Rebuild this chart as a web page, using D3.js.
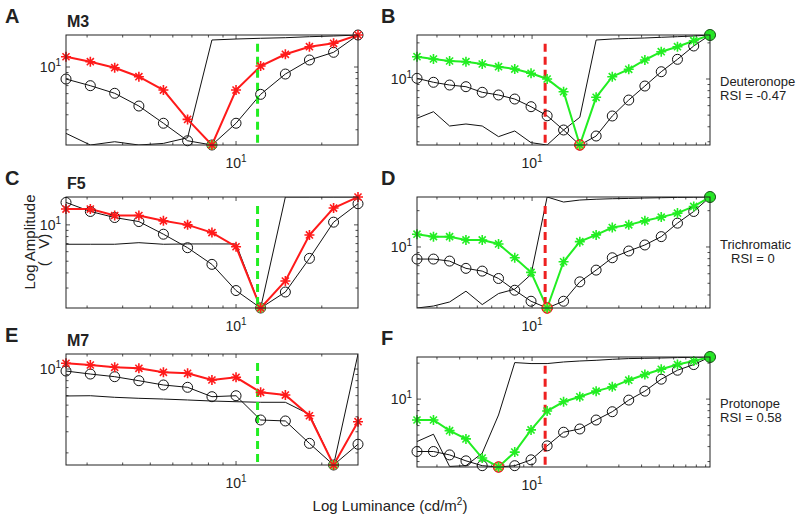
<!DOCTYPE html>
<html><head><meta charset="utf-8">
<script src="https://cdn.jsdelivr.net/npm/d3@7"></script>
<style>
body{margin:0;background:#fff}
text{font-family:"Liberation Sans",Arial,sans-serif;fill:#222}
</style>
</head><body>
<svg id="chart" width="800" height="523"></svg>
<script>
// ---------- DATA ----------
// luminance steps (cd/m2)
const lumLeft  = [2.53, 3.08, 3.75, 4.56, 5.56, 6.76, 8.23, 10.0, 12.2, 14.9, 18.1, 22.0, 26.8];
const lumRight = [2.33, 2.87, 3.52, 4.33, 5.32, 6.54, 8.03, 9.87, 12.1, 14.9, 18.3, 22.5, 27.6, 34.0, 41.7, 51.3, 63.0, 77.4, 95.1];

// Panel A (M3)
const m3Cone   = [12.18, 11.07, 9.87, 8.30, 6.43, 3.66, 2.24, 6.43, 10.19, 12.76, 14.76, 15.76, 18.48];
const m3Flick  = [7.94, 6.99, 6.04, 4.73, 3.40, 2.43, 2.24, 3.40, 5.92, 8.74, 11.44, 13.26, 18.48];
const m3Trace  = [2.80, 2.24, 2.385, 2.24, 2.31, 2.575, 16.79, 17.11, 17.35, 17.55, 17.89, 18.13, 18.48];
// Panel B (Deuteronope)
const deutCone  = [15.34, 14.68, 14.13, 13.94, 13.34, 12.66, 12.11, 11.16, 10.0, 7.84, 2.82, 7.04, 10.45, 12.05, 14.40, 16.88, 18.58, 20.85, 23.26];
const deutFlick = [10.13, 9.39, 8.91, 8.63, 7.75, 7.36, 6.81, 5.88, 4.94, 3.76, 2.82, 3.35, 4.92, 6.68, 8.74, 11.50, 14.59, 18.84, 23.26];
const deutTrace = [4.71, 5.34, 4.06, 4.22, 4.06, 3.31, 3.69, 2.95, 2.82, 3.76, 4.80, 21.13, 21.54, 21.75, 21.96, 22.26, 22.52, 22.82, 23.26];
// Panel C (F5)
const f5Cone   = [13.52, 13.52, 11.95, 11.95, 10.80, 10.0, 8.63, 6.59, 2.05, 3.43, 8.25, 13.78, 17.01];
const f5Flick  = [15.34, 12.91, 11.50, 10.65, 8.37, 6.47, 4.71, 2.86, 2.05, 2.78, 5.28, 10.53, 14.96];
const f5Trace  = [6.91, 6.91, 6.91, 7.12, 6.91, 6.95, 6.95, 6.95, 2.05, 17.01, 17.01, 17.01, 17.01];
// Panel D (Trichromatic)
const triCone  = [12.76, 12.18, 12.18, 11.44, 11.44, 10.59, 8.14, 6.16, 3.12, 7.54, 11.07, 12.59, 14.48, 15.25, 16.47, 17.68, 19.09, 21.67, 25.96];
const triFlick = [7.94, 7.94, 7.64, 6.65, 6.31, 5.48, 4.38, 3.55, 3.12, 3.55, 5.14, 6.43, 8.14, 9.26, 10.39, 12.18, 15.76, 19.69, 25.96];
const triTrace = [3.12, 3.24, 3.50, 4.30, 3.33, 4.11, 4.47, 5.92, 25.96, 23.58, 24.50, 24.88, 25.12, 25.26, 25.46, 25.61, 25.75, 25.85, 25.96];
// Panel E (M7)
const m7Cone   = [11.16, 10.80, 10.33, 10.13, 9.39, 9.21, 8.10, 8.53, 6.39, 6.07, 4.08, 1.585, 3.64];
const m7Flick  = [9.62, 9.08, 8.63, 7.99, 7.36, 7.04, 5.88, 5.99, 3.76, 3.69, 2.40, 1.585, 2.36];
const m7Trace  = [5.96, 5.99, 5.81, 5.70, 5.62, 5.52, 5.41, 5.34, 5.28, 5.28, 4.19, 1.585, 13.34];
// Panel F (Protonope)
const protCone  = [6.68, 6.68, 5.44, 4.64, 3.21, 2.70, 3.60, 5.52, 7.94, 9.50, 10.45, 11.66, 12.66, 14.40, 16.06, 17.78, 19.46, 20.85, 22.52];
const protFlick = [3.64, 3.64, 3.41, 3.04, 2.77, 2.70, 2.77, 3.10, 4.06, 5.28, 5.62, 6.68, 7.84, 9.81, 11.66, 14.68, 17.45, 19.46, 22.52];
const protTrace = [4.41, 5.08, 2.73, 2.77, 3.53, 7.36, 20.22, 19.84, 19.84, 20.46, 20.85, 21.13, 21.54, 21.84, 21.96, 22.09, 22.26, 22.39, 22.52];

// criterion luminance (dashed lines)
const dashLeft = 11.9, dashRight = 11.8;

const panelLetters = ["A", "B", "C", "D", "E", "F"];
const animalNames  = ["M3", "", "F5", "", "M7", ""];
const phenotypes   = ["", "Deuteronope", "", "Trichromatic", "", "Protonope"];
const rsiLabels    = ["", "RSI = -0.47", "", "RSI = 0", "", "RSI = 0.58"];

// ---------- LAYOUT ----------
const layout = [
  {x0:66,  x1:358, y0:35,  y1:145},
  {x0:417, x1:710, y0:35,  y1:145},
  {x0:66,  x1:358, y0:197, y1:308},
  {x0:417, x1:710, y0:197, y1:308},
  {x0:66,  x1:358, y0:354, y1:465},
  {x0:417, x1:710, y0:357, y1:467}
];
const RED = "#ff1a1a", GREEN = "#22ee22";

const panels = [
  {lum:lumLeft,  cone:m3Cone,   flick:m3Flick,   trace:m3Trace,   cColor:RED,   dash:dashLeft,  dColor:GREEN, right:false},
  {lum:lumRight, cone:deutCone, flick:deutFlick, trace:deutTrace, cColor:GREEN, dash:dashRight, dColor:"#ee2020", right:true},
  {lum:lumLeft,  cone:f5Cone,   flick:f5Flick,   trace:f5Trace,   cColor:RED,   dash:dashLeft,  dColor:GREEN, right:false},
  {lum:lumRight, cone:triCone,  flick:triFlick,  trace:triTrace,  cColor:GREEN, dash:dashRight, dColor:"#ee2020", right:true},
  {lum:lumLeft,  cone:m7Cone,   flick:m7Flick,   trace:m7Trace,   cColor:RED,   dash:dashLeft,  dColor:GREEN, right:false},
  {lum:lumRight, cone:protCone, flick:protFlick, trace:protTrace, cColor:GREEN, dash:dashRight, dColor:"#ee2020", right:true}
];

const svg = d3.select("#chart");

function starPath(r){
  const a = r*0.7071;
  return `M${-r},0L${r},0M0,${-r}L0,${r}M${-a},${-a}L${a},${a}M${-a},${a}L${a},${-a}`;
}

panels.forEach((p, i) => {
  const L = layout[i];
  const x = d3.scaleLog().domain(d3.extent(p.lum)).range([L.x0, L.x1]);
  const all = p.cone.concat(p.flick, p.trace);
  const y = d3.scaleLog().domain(d3.extent(all)).range([L.y1, L.y0]);
  const g = svg.append("g");
  const clipId = "clip" + i;
  svg.append("clipPath").attr("id", clipId).append("rect")
    .attr("x", L.x0).attr("y", L.y0).attr("width", L.x1 - L.x0).attr("height", L.y1 - L.y0);

  // ticks
  const isMajor = v => Math.abs(Math.log10(v) - Math.round(Math.log10(v))) < 1e-6;
  const xt = x.ticks().filter(v => v >= x.domain()[0] && v <= x.domain()[1]);
  const yt = y.ticks().filter(v => v >= y.domain()[0] && v <= y.domain()[1]);
  const tg = g.append("g").attr("stroke", "#222").attr("stroke-width", 0.8);
  xt.forEach(v => {
    const len = isMajor(v) ? 4 : 2.5, xx = x(v);
    tg.append("line").attr("x1", xx).attr("x2", xx).attr("y1", L.y1).attr("y2", L.y1 - len);
    tg.append("line").attr("x1", xx).attr("x2", xx).attr("y1", L.y0).attr("y2", L.y0 + len);
  });
  yt.forEach(v => {
    const len = isMajor(v) ? 4 : 2.5, yy = y(v);
    tg.append("line").attr("x1", L.x0).attr("x2", L.x0 + len).attr("y1", yy).attr("y2", yy);
    tg.append("line").attr("x1", L.x1).attr("x2", L.x1 - len).attr("y1", yy).attr("y2", yy);
  });
  // tick labels (powers of ten)
  xt.filter(isMajor).forEach(v => {
    const t = g.append("text").attr("x", x(v)).attr("y", L.y1 + 23)
      .attr("text-anchor", "middle").attr("font-size", 14);
    t.append("tspan").text("10");
    t.append("tspan").attr("dy", -6).attr("font-size", 10).text(Math.round(Math.log10(v)));
  });
  yt.filter(isMajor).forEach(v => {
    const t = g.append("text").attr("x", L.x0 - 5).attr("y", y(v) + 5)
      .attr("text-anchor", "end").attr("font-size", 14);
    t.append("tspan").text("10");
    t.append("tspan").attr("dy", -6).attr("font-size", 10).text(Math.round(Math.log10(v)));
  });

  const pg = g.append("g").attr("clip-path", `url(#${clipId})`);
  const line = d3.line().x((d, k) => x(p.lum[k])).y(d => y(d));

  // thin trace
  pg.append("path").datum(p.trace).attr("d", line)
    .attr("fill", "none").attr("stroke", "#111").attr("stroke-width", 1);
  // flicker (circles) line
  pg.append("path").datum(p.flick).attr("d", line)
    .attr("fill", "none").attr("stroke", "#111").attr("stroke-width", 1);
  // cone line
  pg.append("path").datum(p.cone).attr("d", line)
    .attr("fill", "none").attr("stroke", p.cColor).attr("stroke-width", 2);

  // dashed criterion line
  g.append("line").attr("x1", x(p.dash)).attr("x2", x(p.dash))
    .attr("y1", L.y0 + (L.y1 - L.y0) * 0.08).attr("y2", L.y1)
    .attr("stroke", p.dColor).attr("stroke-width", 3).attr("stroke-dasharray", "8,5");

  // circles
  const mg = g.append("g");
  mg.selectAll("circle.f").data(p.flick).enter().append("circle")
    .attr("cx", (d, k) => x(p.lum[k])).attr("cy", d => y(d)).attr("r", 5)
    .attr("fill", "none").attr("stroke", "#111").attr("stroke-width", 1);

  // special markers
  const iMin = d3.minIndex(p.cone), iMax = d3.maxIndex(p.cone);
  if (p.right) {
    mg.append("circle").attr("cx", x(p.lum[iMin])).attr("cy", y(p.cone[iMin])).attr("r", 5)
      .attr("fill", "#ff9a60").attr("stroke", "#ff2020").attr("stroke-width", 1.3);
    mg.append("circle").attr("cx", x(p.lum[iMax])).attr("cy", y(p.cone[iMax])).attr("r", 5.5)
      .attr("fill", "#30d030").attr("stroke", "#1a5a1a").attr("stroke-width", 1);
  } else {
    mg.append("circle").attr("cx", x(p.lum[iMin])).attr("cy", y(p.cone[iMin])).attr("r", 5)
      .attr("fill", "#66dd44").attr("opacity", 0.9);
  }

  // stars
  mg.selectAll("path.s").data(p.cone).enter().append("path")
    .attr("d", starPath(5))
    .attr("transform", (d, k) => `translate(${x(p.lum[k])},${y(d)})`)
    .attr("fill", "none").attr("stroke", p.cColor).attr("stroke-width", 1.6);

  // box
  g.append("rect").attr("x", L.x0).attr("y", L.y0)
    .attr("width", L.x1 - L.x0).attr("height", L.y1 - L.y0)
    .attr("fill", "none").attr("stroke", "#222").attr("stroke-width", 1);

  // panel letter
  svg.append("text").attr("x", p.right ? 381 : 5).attr("y", L.y0 - 12)
    .attr("font-size", 20).attr("font-weight", "bold").text(panelLetters[i]);
  if (animalNames[i]) {
    svg.append("text").attr("x", 67).attr("y", L.y0 - 8)
      .attr("font-size", 16).attr("font-weight", "bold").text(animalNames[i]);
  }
  if (phenotypes[i]) {
    const centered = phenotypes[i] === "Trichromatic";
    svg.append("text").attr("x", 720).attr("y", (L.y0 + L.y1) / 2 - 4)
      .attr("font-size", 13).text(phenotypes[i]);
    svg.append("text").attr("x", centered ? 731 : 720).attr("y", (L.y0 + L.y1) / 2 + 10)
      .attr("font-size", 13).text(rsiLabels[i]);
  }
});

// axis titles
svg.append("text").attr("transform", "translate(35,242) rotate(-90)")
  .attr("text-anchor", "middle").attr("font-size", 15).text("Log Amplitude");
svg.append("text").attr("transform", "translate(49,250) rotate(-90)")
  .attr("text-anchor", "middle").attr("font-size", 15).style("white-space", "pre").text("(   V)");
const xl = svg.append("text").attr("x", 390).attr("y", 511).attr("text-anchor", "middle").attr("font-size", 15);
xl.append("tspan").text("Log Luminance (cd/m");
xl.append("tspan").attr("dy", -6).attr("font-size", 10).text("2");
xl.append("tspan").attr("dy", 6).text(")");
</script>
</body></html>
